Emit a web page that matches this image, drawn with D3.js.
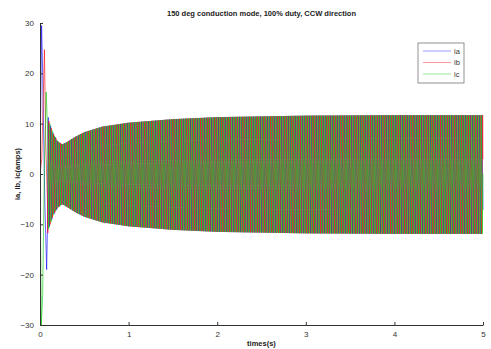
<!DOCTYPE html>
<html>
<head>
<meta charset="utf-8">
<script src="https://cdn.jsdelivr.net/npm/d3@7"></script>
<style>
  body { margin: 0; background: #fff; }
  svg { display: block; font-family: "Liberation Sans", Arial, sans-serif; }
  .axis path, .axis line { stroke: #333; }
  .axis text { fill: #333; font-size: 8px; }
</style>
</head>
<body>
<svg id="chart" width="491" height="349"></svg>
<script>
// values
const seriesNames = ["ia", "ib", "ic"];
const seriesColors = ["#0000ff", "#ff0000", "#00c800"];
const xTicks = [0, 1, 2, 3, 4, 5];
const yTicks = [-30, -20, -10, 0, 10, 20, 30];

// start-up transient (t, amps) for each phase, before the steady oscillation
const startIa = [[0, 0], [0.018, 29.5], [0.03, 20], [0.055, -6], [0.075, -19], [0.085, -10]];
const startIb = [[0, 0], [0.02, 3], [0.05, 24.7], [0.065, 6], [0.085, -6]];
const startIc = [[0, 0], [0.015, -30], [0.03, -24], [0.05, 2], [0.07, 16.3], [0.085, 9]];

// envelope of the oscillating band (peak amps)
const envTimes = [0.085, 0.1, 0.15, 0.2, 0.25, 0.3, 0.4, 0.5, 0.7, 1, 1.5, 2, 3, 4, 5];
const envUpper = [12, 10.6, 8, 6.5, 5.9, 6.3, 7.4, 8.3, 9.4, 10.2, 10.9, 11.3, 11.6, 11.7, 11.7];
const envLower = [12, 10.8, 8.2, 6.7, 6.0, 6.5, 7.6, 8.5, 9.6, 10.4, 11.1, 11.5, 11.8, 11.9, 11.9];

// one electrical cycle of the phase current, normalised
const cycleShape = [0, 0.2, 0.25, 0.6, 1, 0.6, 0.25, 0.2, 0, -0.2, -0.25, -0.6, -1, -0.6, -0.25, -0.2];
const cyclesPerSecond = 38;

const svg = d3.select("#chart");
const margin = { top: 23, right: 8, bottom: 24, left: 40 };
const width = 491 - margin.left - margin.right;
const height = 349 - margin.top - margin.bottom;

const x = d3.scaleLinear().domain([0, 5]).range([0, width]);
const y = d3.scaleLinear().domain([-30, 30]).range([height, 0]);
const upper = d3.scaleLinear().domain(envTimes).range(envUpper).clamp(true);
const lower = d3.scaleLinear().domain(envTimes).range(envLower).clamp(true);

const g = svg.append("g").attr("transform", "translate(" + margin.left + "," + margin.top + ")");

g.append("clipPath").attr("id", "clip")
  .append("rect").attr("x", 0).attr("y", -1).attr("width", width + 1).attr("height", height + 2);

function buildSeries(start, phase) {
  let pts = start.slice();
  const n = cycleShape.length;
  const step = 1 / (cyclesPerSecond * n);
  const offset = Math.round(phase * n / 3);
  let k = 0;
  for (let t = envTimes[0] + step; t <= 5; t += step, k++) {
    const s = cycleShape[(k + offset) % n];
    pts.push([t, s >= 0 ? s * upper(t) : s * lower(t)]);
  }
  return pts;
}

const series = [buildSeries(startIa, 0), buildSeries(startIb, 2), buildSeries(startIc, 1)];

const line = d3.line().x(d => x(d[0])).y(d => y(d[1]));

const plot = g.append("g").attr("clip-path", "url(#clip)");
series.forEach((pts, i) => {
  plot.append("path")
    .datum(pts)
    .attr("fill", "none")
    .attr("stroke", seriesColors[i])
    .attr("stroke-width", 0.8)
    .attr("stroke-opacity", 0.75)
    .attr("d", line);
});

// axes, MATLAB style ticks pointing inward
g.append("g")
  .attr("class", "axis")
  .attr("transform", "translate(0," + height + ")")
  .call(d3.axisBottom(x).tickValues(xTicks).tickFormat(d3.format("d")).tickSize(-3).tickPadding(6).tickSizeOuter(0));

g.append("g")
  .attr("class", "axis")
  .call(d3.axisLeft(y).tickValues(yTicks).tickFormat(d3.format("d")).tickSize(-3).tickPadding(6).tickSizeOuter(0));

svg.append("text")
  .attr("x", margin.left + width / 2)
  .attr("y", 16)
  .attr("text-anchor", "middle")
  .attr("font-size", "7.5px")
  .attr("font-weight", "bold")
  .attr("fill", "#222")
  .text("150 deg conduction mode, 100% duty, CCW direction");

svg.append("text")
  .attr("x", margin.left + width / 2)
  .attr("y", 346)
  .attr("text-anchor", "middle")
  .attr("font-size", "7.5px")
  .attr("font-weight", "bold")
  .attr("fill", "#222")
  .text("times(s)");

svg.append("text")
  .attr("transform", "translate(20," + (margin.top + height / 2) + ") rotate(-90)")
  .attr("text-anchor", "middle")
  .attr("font-size", "7.5px")
  .attr("font-weight", "bold")
  .attr("fill", "#222")
  .text("ia, ib, ic(amps)");

// legend
const legend = svg.append("g").attr("transform", "translate(418,43)");
legend.append("rect")
  .attr("width", 46).attr("height", 40)
  .attr("fill", "#fff").attr("stroke", "#777").attr("stroke-width", 0.8);
seriesNames.forEach((name, i) => {
  const ly = 8 + i * 11.5;
  legend.append("line")
    .attr("x1", 5).attr("x2", 33).attr("y1", ly).attr("y2", ly)
    .attr("stroke", seriesColors[i]).attr("stroke-opacity", 0.5).attr("stroke-width", 0.8);
  legend.append("text")
    .attr("x", 36).attr("y", ly + 2.5)
    .attr("font-size", "7.5px").attr("fill", "#333")
    .text(name);
});
</script>
</body>
</html>
